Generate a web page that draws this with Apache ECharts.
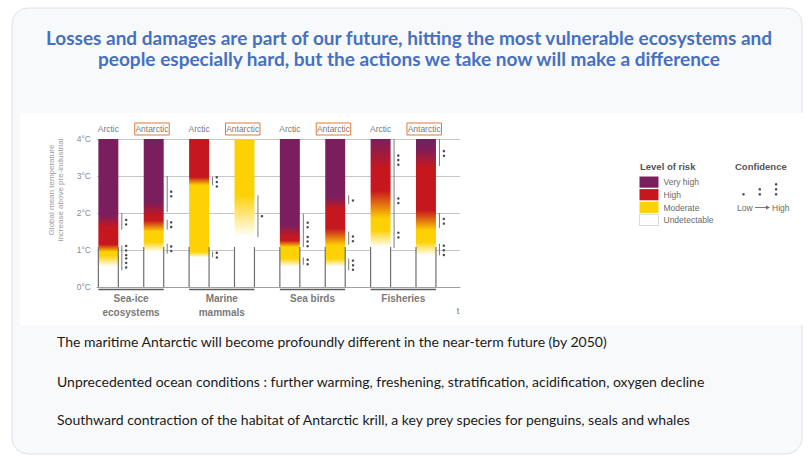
<!DOCTYPE html>
<html><head><meta charset="utf-8">
<script src="https://cdn.jsdelivr.net/npm/echarts@6/dist/echarts.min.js"></script>
<style>html,body{margin:0;padding:0;background:#fff;}#c{width:808px;height:460px;}
#c, #c text, #c tspan{font-variant-ligatures:none;font-feature-settings:"liga" 0,"dlig" 0,"clig" 0;}</style>
</head><body><div id="c"></div>
<script>
// ---------- data ----------
const titleLines = [
  'Losses and damages are part of our future, hitting the most vulnerable ecosystems and',
  'people especially hard, but the actions we take now will make a difference'
];
const bodyLines = [
  'The maritime Antarctic will become profoundly different in the near-term future (by 2050)',
  'Unprecedented ocean conditions : further warming, freshening, stratification, acidification, oxygen decline',
  'Southward contraction of the habitat of Antarctic krill, a key prey species for penguins, seals and whales'
];
const groups = ['Sea-ice\necosystems', 'Marine\nmammals', 'Sea birds', 'Fisheries'];
const regions = ['Arctic', 'Antarctic'];
const yTickLabels = ['0°C', '1°C', '2°C', '3°C', '4°C'];
const yAxisTitle = 'Global mean temperature\nincrease above pre-industrial';
// transitions (°C): start and end of each colour change, one entry per column
const transUM = [[0.55,0.85],[0.95,1.22],[0.80,0.95],[1.35,2.50],[0.55,0.77],[0.55,0.77],[1.08,1.53],[0.86,1.22]];
const transMH = [[0.95,1.15],[1.50,1.80],[2.75,2.97],null,[1.08,1.26],[1.12,1.58],[1.85,2.60],[1.53,2.07]];
const transVH = [[1.60,1.95],[1.90,2.30],null,null,[1.35,1.67],[2.12,2.43],[3.20,4.00],[3.22,3.75]];
// confidence brackets: [from °C, to °C, number of dots]
const confidence = [
  [[1.55,2.00,2],[0.90,1.12,3],[0.45,0.90,3]],
  [[2.03,3.00,2],[1.55,1.82,2],[0.90,1.17,2]],
  [[2.75,2.97,3],[0.80,0.96,2]],
  [[1.35,2.48,1]],
  [[1.42,1.98,2],[1.08,1.42,3],[0.60,0.80,2]],
  [[2.24,2.48,1],[1.14,1.50,2],[0.45,0.77,3]],
  [[2.90,4.00,3],[1.80,2.90,2],[1.05,1.80,2]],
  [[3.27,4.00,2],[1.60,2.00,2],[0.86,1.17,3]]
];
const riskLabels = ['Very high', 'High', 'Moderate', 'Undetectable'];
const confidenceDots = [1, 2, 3];
const confidenceEnds = ['Low', 'High'];

// ---------- style ----------
const PURPLE = '#7b1e5d', RED = '#c7171e', YELLOW = '#fdd104', WHITE = '#ffffff';
const riskColors = [PURPLE, RED, YELLOW, WHITE];
const CF = 'Liberation Sans, Arial, sans-serif';
const BAR_W = 0.44;
const BOX_TOP = 1.08;

const columns = [];
groups.forEach((g, gi) => regions.forEach((r, ri) => columns.push([gi * 2 + ri])));

function buildStops(i) {
  const s = [{offset: 0, color: WHITE}];
  const add = (t, c) => s.push({offset: Math.min(1, Math.max(0, t / 4)), color: c});
  let cur = WHITE;
  [[transUM[i], YELLOW], [transMH[i], RED], [transVH[i], PURPLE]].forEach(([tr, c]) => {
    if (!tr) return;
    add(tr[0], cur); add(tr[1], c); cur = c;
  });
  add(4, cur);
  return s;
}

function renderBar(params, api) {
  const i = api.value(0);
  const b = api.coord([i, 0]);
  const t = api.coord([i, 4]);
  const w = api.size([BAR_W, 0])[0];
  const cx = b[0], x0 = cx - w / 2, x1 = cx + w / 2;
  const yOf = v => api.coord([i, v])[1];
  const ch = [];
  ch.push({type: 'rect', shape: {x: x0, y: t[1], width: w, height: b[1] - t[1]},
    style: {fill: {type: 'linear', x: 0, y: 1, x2: 0, y2: 0, colorStops: buildStops(i)}}});
  const yb = yOf(BOX_TOP);
  [x0, x1].forEach(x => ch.push({type: 'line', shape: {x1: x, y1: yb, x2: x, y2: b[1]},
    style: {stroke: '#6f6f6f', lineWidth: 1.2}}));
  confidence[i].forEach(([lo, hi, n]) => {
    const lx = x1 + 3.5;
    ch.push({type: 'line', shape: {x1: lx, y1: yOf(hi), x2: lx, y2: yOf(lo)},
      style: {stroke: '#7a7a7a', lineWidth: 1}});
    const mid = yOf((lo + hi) / 2);
    for (let k = 0; k < n; k++) {
      ch.push({type: 'circle', shape: {cx: x1 + 7.5, cy: mid + (k - (n - 1) / 2) * 4.6, r: 1.25},
        style: {fill: '#4a4a4a'}});
    }
  });
  const reg = regions[i % 2];
  const hy = t[1] - 10.5;
  if (reg === 'Antarctic') {
    ch.push({type: 'rect', shape: {x: cx - 19, y: t[1] - 16, width: 34.5, height: 12},
      style: {fill: 'none', stroke: '#e07a34', lineWidth: 1}});
    ch.push({type: 'text', x: cx - 1.8, y: hy,
      style: {text: reg, align: 'center', verticalAlign: 'middle', font: '8.5px ' + CF, fill: '#7a7a7a'}});
  } else {
    ch.push({type: 'text', x: cx, y: hy,
      style: {text: reg, align: 'center', verticalAlign: 'middle', font: '8.5px ' + CF, fill: '#7a7a7a'}});
  }
  return {type: 'group', children: ch};
}

function renderGroup(params, api) {
  const g = api.value(0);
  const a = api.coord([2 * g, 0]);
  const c = api.coord([2 * g + 1, 0]);
  const w = api.size([BAR_W, 0])[0];
  return {type: 'group', children: [
    {type: 'line', shape: {x1: a[0] - w / 2, y1: a[1] + 2.5, x2: c[0] + w / 2, y2: a[1] + 2.5},
      style: {stroke: '#5c5c5c', lineWidth: 1.6}},
    {type: 'text', x: (a[0] + c[0]) / 2, y: a[1] + 5,
      style: {text: groups[g], align: 'center', verticalAlign: 'top', lineHeight: 13.5,
        font: 'bold 10px ' + CF, fill: '#7a7a7a'}}
  ]};
}

const graphics = [
  {type: 'rect', z: -10, shape: {x: 12, y: 8, width: 790, height: 446, r: 16},
    style: {fill: '#f8f9fa', stroke: '#dbe2ea', lineWidth: 1}},
  {type: 'rect', z: -9, shape: {x: 20, y: 113, width: 788, height: 212}, style: {fill: '#ffffff'}},
];
titleLines.forEach((s, k) => graphics.push({type: 'text', x: 409, y: 37 + k * 21,
  style: {text: s, align: 'center', verticalAlign: 'middle', font: 'bold 19px Lato, sans-serif', fill: '#4670c0'}}));
bodyLines.forEach((s, k) => graphics.push({type: 'text', x: 57, y: [341, 381, 419][k],
  style: {text: s, align: 'left', verticalAlign: 'middle', font: '14px Lato, sans-serif', fill: '#1b1b1b'}}));
graphics.push({type: 'text', x: 56, y: 190, rotation: Math.PI / 2,
  style: {text: yAxisTitle, align: 'center', verticalAlign: 'middle', lineHeight: 8.5, font: '8px ' + CF, fill: '#9a9a9a'}});
graphics.push({type: 'text', x: 458, y: 311, style: {text: 't', align: 'center', verticalAlign: 'middle', font: '9px ' + CF, fill: '#777'}});
// legend
graphics.push({type: 'text', x: 640, y: 166, style: {text: 'Level of risk', verticalAlign: 'middle', font: 'bold 9.5px ' + CF, fill: '#555'}});
riskLabels.forEach((s, k) => {
  graphics.push({type: 'rect', shape: {x: 639.5, y: 176.5 + k * 12.6, width: 19, height: 11.2},
    style: {fill: riskColors[k], stroke: k === 3 ? '#d8d8d8' : null, lineWidth: 1}});
  graphics.push({type: 'text', x: 663.5, y: 182.3 + k * 12.6,
    style: {text: s, verticalAlign: 'middle', font: '8.5px ' + CF, fill: '#6a6a6a'}});
});
graphics.push({type: 'text', x: 735, y: 166, style: {text: 'Confidence', verticalAlign: 'middle', font: 'bold 9.5px ' + CF, fill: '#555'}});
confidenceDots.forEach((n, k) => {
  for (let d = 0; d < n; d++) {
    graphics.push({type: 'circle', shape: {cx: 743.5 + k * 16.3, cy: 194.3 - d * 5, r: 1.3}, style: {fill: '#4a4a4a'}});
  }
});
graphics.push({type: 'text', x: 737, y: 207.5, style: {text: confidenceEnds[0], verticalAlign: 'middle', font: '8.5px ' + CF, fill: '#6a6a6a'}});
graphics.push({type: 'line', shape: {x1: 755, y1: 207.5, x2: 768, y2: 207.5}, style: {stroke: '#6a6a6a', lineWidth: 0.9}});
graphics.push({type: 'polygon', shape: {points: [[770, 207.5], [766, 205.6], [766, 209.4]]}, style: {fill: '#6a6a6a'}});
graphics.push({type: 'text', x: 772, y: 207.5, style: {text: confidenceEnds[1], verticalAlign: 'middle', font: '8.5px ' + CF, fill: '#6a6a6a'}});

const chart = echarts.init(document.getElementById('c'), null, {renderer: 'svg'});
chart.setOption({
  animation: false,
  backgroundColor: 'transparent',
  graphic: {elements: graphics},
  grid: {left: 97, right: 348, top: 139, bottom: 173},
  xAxis: {type: 'value', min: -0.25, max: 7.75,
    axisLine: {show: true, lineStyle: {color: '#a0a0a0', width: 1}},
    axisTick: {show: false}, axisLabel: {show: false}, splitLine: {show: false}},
  yAxis: {type: 'value', min: 0, max: 4, interval: 1,
    axisLine: {show: false}, axisTick: {show: true, length: 3, lineStyle: {color: '#aaa'}},
    axisLabel: {margin: 6, fontSize: 8.5, fontFamily: CF, color: '#8a8a8a', formatter: v => yTickLabels[v]},
    splitLine: {show: true, lineStyle: {color: '#c6c6c6', width: 1}}},
  series: [
    {type: 'custom', renderItem: renderBar, data: columns, clip: false, z: 3},
    {type: 'custom', renderItem: renderGroup, data: groups.map((g, k) => [k]), clip: false, z: 3}
  ]
});
</script></body></html>
